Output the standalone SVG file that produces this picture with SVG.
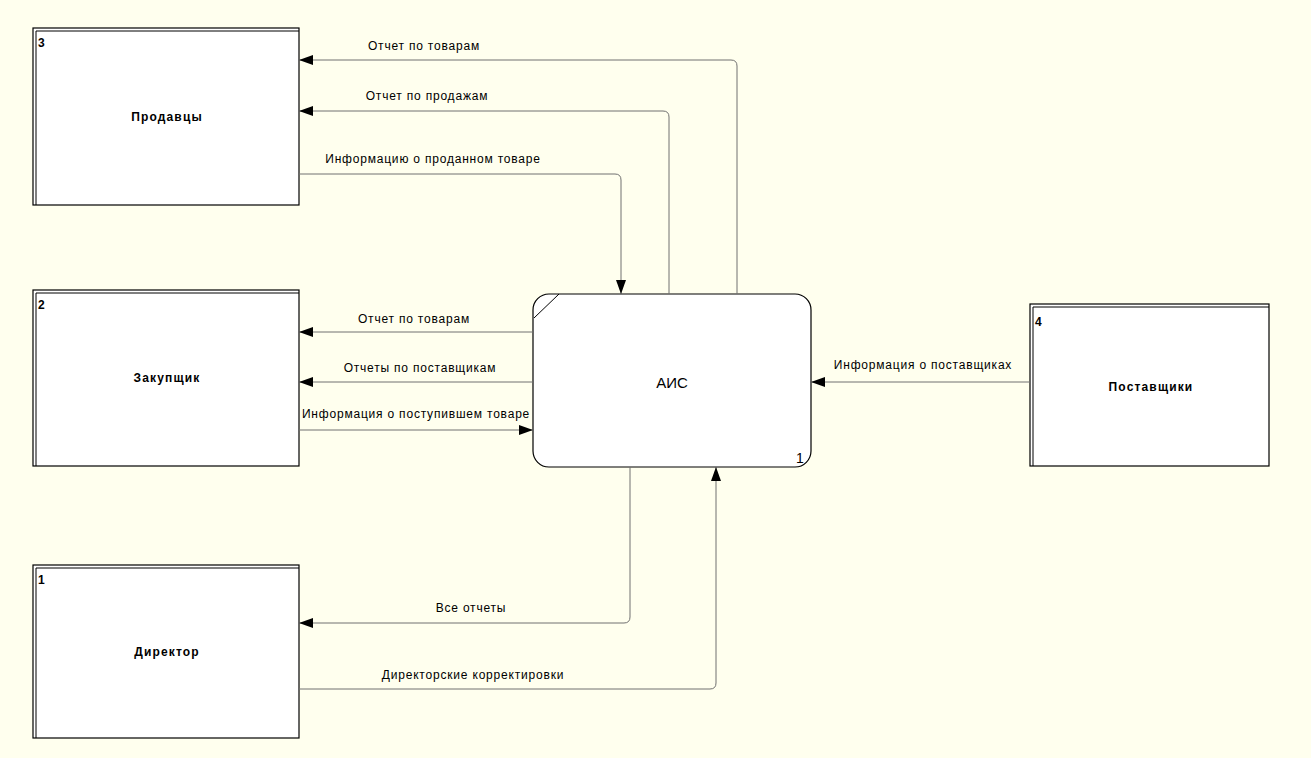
<svg xmlns="http://www.w3.org/2000/svg" width="1311" height="758" viewBox="0 0 1311 758">
<style>
.ext{fill:#fff;stroke:#000;stroke-width:1.2}
.dbl{fill:none;stroke:#000;stroke-width:1}
.num{font-family:"Liberation Sans",Arial,sans-serif;font-size:12px;font-weight:bold;fill:#000}
.ttl{font-family:"Liberation Sans",Arial,sans-serif;font-size:12px;font-weight:bold;fill:#000;text-anchor:middle;letter-spacing:1.15px}
.lbl{font-family:"Liberation Sans",Arial,sans-serif;font-size:12px;fill:#000;text-anchor:middle;letter-spacing:0.8px}
.flow{fill:none;stroke:#707070;stroke-width:1;marker-end:url(#arr)}
</style>
<defs>
<marker id="arr" markerUnits="userSpaceOnUse" markerWidth="14" markerHeight="10" refX="14" refY="5" orient="auto">
<path d="M0,0 L14,5 L0,10 z" fill="#000"/>
</marker>
</defs>
<rect width="1311" height="758" fill="#FFFFEE"/>
<g id="node-3">
<rect class="ext" x="33" y="28" width="266" height="177"/>
<path class="dbl" d="M36,205 V31 H299"/>
<text class="num" x="38" y="47">3</text>
<text class="ttl" x="167" y="121">Продавцы</text>
</g>
<g id="node-2">
<rect class="ext" x="33" y="290" width="266" height="176"/>
<path class="dbl" d="M36,466 V293 H299"/>
<text class="num" x="38" y="309">2</text>
<text class="ttl" x="167" y="382">Закупщик</text>
</g>
<g id="node-1">
<rect class="ext" x="33" y="565" width="266" height="173"/>
<path class="dbl" d="M36,738 V568 H299"/>
<text class="num" x="38" y="584">1</text>
<text class="ttl" x="167" y="656">Директор</text>
</g>
<g id="node-4">
<rect class="ext" x="1030" y="304" width="239" height="162"/>
<path class="dbl" d="M1033,466 V307 H1269"/>
<text class="num" x="1035" y="326">4</text>
<text class="ttl" x="1151" y="391">Поставщики</text>
</g>
<g id="node-ais">
<rect class="ext" x="533" y="294" width="278" height="173" rx="16" ry="16"/>
<path class="dbl" d="M534,318 L559,294"/>
<text x="672" y="388" font-family="'Liberation Sans',Arial,sans-serif" font-size="15" text-anchor="middle" fill="#000">АИС</text>
<text x="800" y="463" font-family="'Liberation Sans',Arial,sans-serif" font-size="14" text-anchor="middle" fill="#000">1</text>
</g>
<g id="connectors">
<path class="flow" d="M737,294 V66 Q737,60 731,60 H299"/>
<path class="flow" d="M669,294 V117 Q669,111 663,111 H299"/>
<path class="flow" d="M299,174 H615 Q621,174 621,180 V294"/>
<path class="flow" d="M533,332 H299"/>
<path class="flow" d="M533,382 H299"/>
<path class="flow" d="M299,430 H533"/>
<path class="flow" d="M1030,382 H811"/>
<path class="flow" d="M630,467 V617 Q630,623 624,623 H299"/>
<path class="flow" d="M299,689 H710 Q716,689 716,683 V467"/>
<text class="lbl" x="424" y="50">Отчет по товарам</text>
<text class="lbl" x="427" y="100">Отчет по продажам</text>
<text class="lbl" x="433" y="163">Информацию о проданном товаре</text>
<text class="lbl" x="414" y="323">Отчет по товарам</text>
<text class="lbl" x="420" y="372">Отчеты по поставщикам</text>
<text class="lbl" x="416" y="418">Информация о поступившем товаре</text>
<text class="lbl" x="923" y="369">Информация о поставщиках</text>
<text class="lbl" x="471" y="612">Все отчеты</text>
<text class="lbl" x="473" y="679">Директорские корректировки</text>
</g>
</svg>
